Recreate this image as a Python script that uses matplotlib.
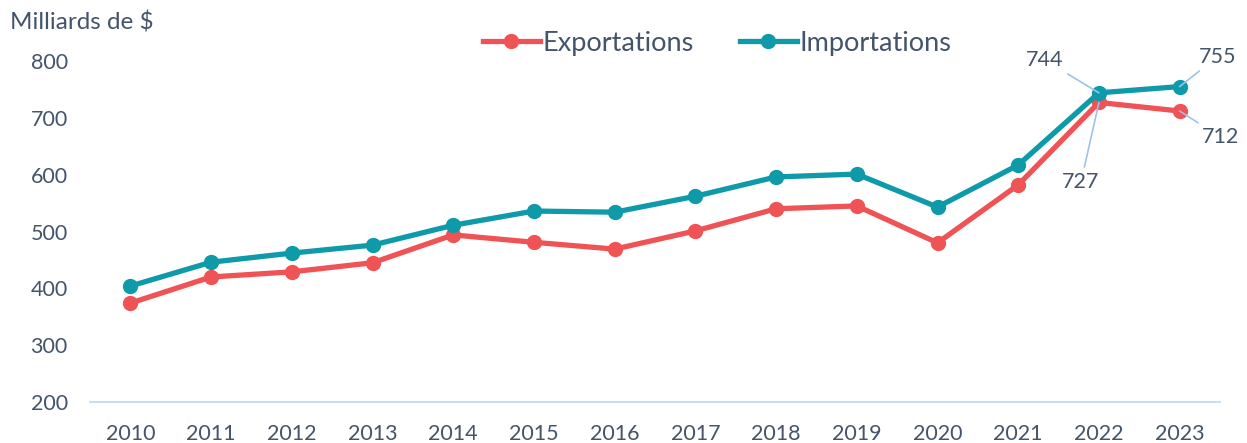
import matplotlib
matplotlib.use("Agg")
import matplotlib.pyplot as plt

years = ["2010", "2011", "2012", "2013", "2014", "2015", "2016",
         "2017", "2018", "2019", "2020", "2021", "2022", "2023"]
exportations = [374, 420, 429, 445, 494, 481, 469, 501, 540, 545, 480, 582, 727, 712]
importations = [404, 446, 462, 476, 511, 536, 534, 562, 596, 601, 543, 617, 744, 755]
yticks = [200, 300, 400, 500, 600, 700, 800]

RED = "#EF5355"
TEAL = "#0E9AA9"
TXT = "#44546A"
LEAD = "#9DC3E6"

plt.rcParams["font.family"] = ["Lato", "DejaVu Sans"]

fig = plt.figure(figsize=(12.47, 4.43), dpi=100)
ax = fig.add_axes([90/1247, 1-402/443, (1220-90)/1247, (402-61)/443])

x = list(range(len(years)))
ax.plot(x, exportations, color=RED, lw=3.8, marker="o", ms=10, label="Exportations", zorder=3)
ax.plot(x, importations, color=TEAL, lw=3.8, marker="o", ms=10, label="Importations", zorder=4)

ax.set_xlim(-0.5, len(years) - 0.5)
ax.set_ylim(200, 800)
ax.set_yticks(yticks)
ax.set_xticks(x)
ax.set_xticklabels(years)
for s in ["top", "right", "left"]:
    ax.spines[s].set_visible(False)
ax.spines["bottom"].set_color("#BDD7EE")
ax.spines["bottom"].set_linewidth(1.2)
ax.tick_params(axis="both", length=0, labelsize=15.5, colors=TXT)
ax.tick_params(axis="y", pad=16)
ax.tick_params(axis="x", pad=16)

fig.text(10/1247, 1-23/443, "Milliards de $", fontsize=17.5, color=TXT, va="center", ha="left")

leg = ax.legend(loc="center", bbox_to_anchor=(717/1247, 1-43/443), bbox_transform=fig.transFigure,
                ncol=2, frameon=False, fontsize=19.5, handlelength=2.1, handletextpad=0.1,
                columnspacing=1.7)
for t in leg.get_texts():
    t.set_color(TXT)

def lab(i, v, dx, dy, ha, va):
    ax.annotate(str(v), xy=(i, v), xytext=(dx, dy), textcoords="offset pixels",
                fontsize=15.5, color=TXT, ha=ha, va=va,
                arrowprops=dict(arrowstyle="-", color=LEAD, lw=1.2, shrinkA=2, shrinkB=0),
                zorder=5)

n = len(years)
lab(n - 2, importations[-2], -36, 33, "right", "center")
lab(n - 2, exportations[-2], -18, -80, "center", "center")
lab(n - 1, importations[-1], 38, 30, "center", "center")
lab(n - 1, exportations[-1], 22, -26, "left", "center")

fig.savefig("out.png", dpi=100)
